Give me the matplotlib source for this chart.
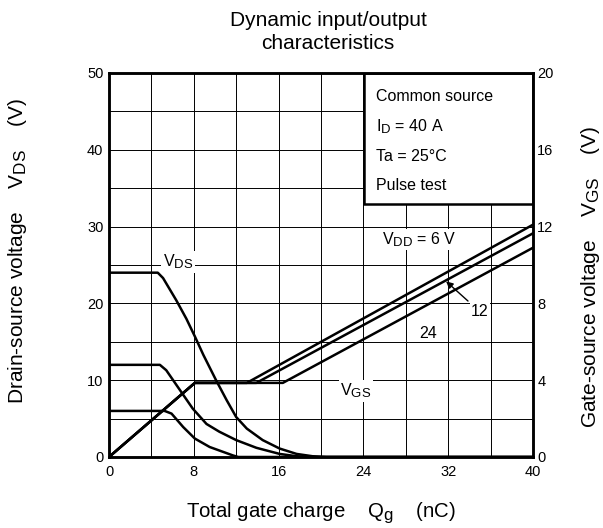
import matplotlib.pyplot as plt
import matplotlib._mathtext as mathtext
import numpy as np

plt.rcParams['font.family'] = ['Liberation Sans', 'DejaVu Sans']
# subscripts in the original are only a little smaller than the main letters
mathtext.SHRINK_FACTOR = 0.82
fs_tick = 10.5
fs_lab = 14.7
fs_txt = 11.5

# gate charge (nC) / drain-source voltage (V) for VDD = 24, 12, 6 V
qg_vds24 = [0, 4.6, 5.1, 6.35, 7.3, 8.1, 8.9, 10.1, 11.1, 12.0, 13.0, 14.5, 16.1, 17.7, 19.2, 20.5, 40]
vds24 = [24, 24, 23.3, 20.4, 18.0, 15.7, 13.3, 10.0, 7.4, 5.2, 3.7, 2.2, 1.1, 0.4, 0.1, 0, 0]

qg_vds12 = [0, 4.8, 5.4, 6.7, 7.9, 9.2, 10.4, 12.0, 13.9, 16.1, 17.7, 19.0, 40]
vds12 = [12, 12, 11.3, 8.7, 6.3, 4.3, 3.3, 2.2, 1.2, 0.4, 0.1, 0, 0]

qg_vds6 = [0, 5.25, 5.9, 7.0, 8.1, 9.5, 10.8, 11.7, 12.2, 40]
vds6 = [6, 6, 5.65, 3.9, 2.4, 1.3, 0.65, 0.2, 0, 0]

# gate-source voltage (V)
qg_vgs6 = [0, 8.1, 13.0, 40]
vgs6 = [0, 3.86, 3.86, 12.1]
qg_vgs12 = [0, 8.1, 13.9, 40]
vgs12 = [0, 3.86, 3.86, 11.65]
qg_vgs24 = [0, 8.1, 16.4, 40]
vgs24 = [0, 3.86, 3.86, 10.9]

fig = plt.figure(figsize=(6.03, 5.28), dpi=100)
ax = fig.add_axes([109/603, 1-457/528, 424/603, 384/528])
ax2 = ax.twinx()

lw = 1.8
for q, v in [(qg_vds24, vds24), (qg_vds12, vds12), (qg_vds6, vds6)]:
    ax.plot(q, v, color='black', lw=lw, zorder=3, solid_joinstyle='round')
for q, v in [(qg_vgs6, vgs6), (qg_vgs12, vgs12), (qg_vgs24, vgs24)]:
    ax2.plot(q, v, color='black', lw=lw, zorder=3, solid_joinstyle='round')

ax.set_xlim(0, 40)
ax.set_ylim(0, 50)
ax2.set_ylim(0, 20)
ax.set_xticks(np.arange(0, 41, 8))
ax.set_xticks(np.arange(0, 41, 4), minor=True)
ax.set_yticks(np.arange(0, 51, 10))
ax.set_yticks(np.arange(0, 51, 5), minor=True)
ax2.set_yticks(np.arange(0, 21, 4))
ax.grid(True, which='both', color='black', lw=0.7)
ax.set_axisbelow(True)
ax.tick_params(which='both', length=0, labelsize=fs_tick)
ax.tick_params(axis='y', pad=4)
ax.tick_params(axis='x', pad=6)
ax2.tick_params(length=0, labelsize=fs_tick, pad=3)
for a in (ax, ax2):
    for s in a.spines.values():
        s.set_linewidth(1.8)

# condition box
ax.add_patch(plt.Rectangle((24.1, 32.9), 15.9, 17.1, facecolor='white',
                           edgecolor='black', lw=1.8, zorder=2.5))
ax.text(25.2, 47.0, 'Common source', fontsize=fs_txt, va='center', zorder=4)
ax.text(25.2, 43.0, r'$\mathregular{I_D}$ = 40 A', fontsize=fs_txt, va='center', zorder=4)
ax.text(25.2, 39.1, 'Ta = 25°C', fontsize=fs_txt, va='center', zorder=4)
ax.text(25.2, 35.4, 'Pulse test', fontsize=fs_txt, va='center', zorder=4)

bb = dict(fc='white', ec='none', pad=1)
ax.text(6.5, 25.4, r'$\mathregular{V_{DS}}$', fontsize=fs_txt, ha='center', va='center', bbox=bb, zorder=4)
ax.text(23.3, 8.6, r'$\mathregular{V_{GS}}$', fontsize=fs_txt, ha='center', va='center', bbox=bb, zorder=4)
ax.text(29.3, 28.3, r'$\mathregular{V_{DD}}$ = 6 V', fontsize=fs_txt, ha='center', va='center', bbox=bb, zorder=4)
ax.text(30.1, 16.1, '24', fontsize=fs_txt, ha='center', va='center', bbox=bb, zorder=4)
ax2.annotate('12', xy=(31.8, 9.15), xytext=(35.0, 7.56), fontsize=fs_txt,
             ha='center', va='center', bbox=bb, zorder=4,
             arrowprops=dict(arrowstyle='-|>', color='black', lw=1, shrinkA=2, shrinkB=0,
                             mutation_scale=10))

fig.text(328/603, 1-32/528, 'Dynamic input/output\ncharacteristics', fontsize=15,
         ha='center', va='center', linespacing=1.25)
fig.text(321/603, 1-513/528, r'Total gate charge    $\mathregular{Q_g}$    (nC)', fontsize=fs_lab,
         ha='center', va='center')
fig.text(18/603, 1-251/528, r'Drain-source voltage    $\mathregular{V_{DS}}$    (V)', fontsize=15,
         ha='center', va='center', rotation=90)
fig.text(590/603, 1-277/528, r'Gate-source voltage    $\mathregular{V_{GS}}$    (V)', fontsize=15,
         ha='center', va='center', rotation=90)

fig.savefig('out.png', dpi=100)
